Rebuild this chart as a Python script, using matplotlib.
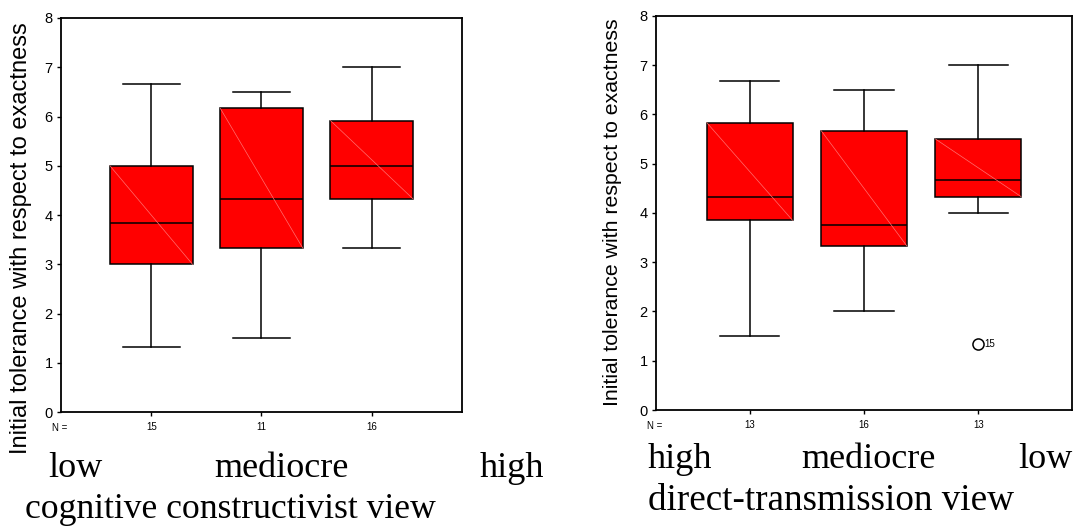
import matplotlib
matplotlib.use("Agg")
import matplotlib.pyplot as plt

plt.rcParams['font.family'] = ['Liberation Sans', 'DejaVu Sans']

# left panel: cognitive constructivist view
left_n = [15, 11, 16]
left_low = [1.33, 1.5, 3.33]
left_q1 = [3.0, 3.33, 4.33]
left_med = [3.85, 4.33, 5.0]
left_q3 = [5.0, 6.17, 5.92]
left_high = [6.67, 6.5, 7.0]
left_fliers = [[], [], []]
left_cats = ['low', 'mediocre', 'high']

# right panel: direct-transmission view
right_n = [13, 16, 13]
right_low = [1.5, 2.0, 4.0]
right_q1 = [3.85, 3.33, 4.33]
right_med = [4.33, 3.75, 4.67]
right_q3 = [5.83, 5.67, 5.5]
right_high = [6.67, 6.5, 7.0]
right_fliers = [[], [], [1.33]]
right_flier_ids = ['', '', '15']
right_cats = ['high', 'mediocre', 'low']

ylab = 'Initial tolerance with respect to exactness'
box_w = 0.75
cap_w = 0.52


def draw_panel(ax, n, low, q1, med, q3, high, fliers, flier_ids=None):
    stats = []
    for i in range(len(n)):
        stats.append(dict(whislo=low[i], q1=q1[i], med=med[i], q3=q3[i],
                          whishi=high[i], fliers=fliers[i]))
    pos = [1, 2, 3]
    ax.bxp(stats, positions=pos, widths=box_w, capwidths=cap_w,
           patch_artist=True, showfliers=True,
           boxprops=dict(facecolor='#ff0000', edgecolor='black', linewidth=1.1),
           whiskerprops=dict(color='black', linewidth=1.1),
           capprops=dict(color='black', linewidth=1.1),
           medianprops=dict(color='black', linewidth=1.1),
           flierprops=dict(marker='o', markerfacecolor='white', markeredgecolor='black',
                           markersize=8, markeredgewidth=1.1))
    # faint diagonal inside each box
    for i, p in enumerate(pos):
        ax.plot([p - box_w / 2, p + box_w / 2], [q3[i], q1[i]], color='#ff7070',
                lw=0.5, zorder=3)
    if flier_ids:
        for i, p in enumerate(pos):
            for v in fliers[i]:
                ax.text(p + 0.05, v, flier_ids[i], fontsize=7, va='center', ha='left')
    ax.set_xlim(0.18, 3.82)
    ax.set_ylim(0, 8)
    ax.set_yticks(range(0, 9))
    ax.set_xticks(pos)
    ax.set_xticklabels([str(v) for v in n], fontsize=7)
    ax.tick_params(axis='y', labelsize=10.5, length=3, width=1, pad=3)
    ax.tick_params(axis='x', length=3, width=1, pad=4)
    for s in ax.spines.values():
        s.set_linewidth(1.3)
    ax.text(-0.022, -0.027, 'N =', transform=ax.transAxes,
            fontsize=7, ha='left', va='top')


fig = plt.figure(figsize=(10.81, 5.26), dpi=100)

ax1 = fig.add_axes([0.0564, 0.2162, 0.371, 0.7496])
draw_panel(ax1, left_n, left_low, left_q1, left_med, left_q3, left_high, left_fliers)

ax2 = fig.add_axes([0.6068, 0.2205, 0.3848, 0.7496])
draw_panel(ax2, right_n, right_low, right_q1, right_med, right_q3, right_high,
           right_fliers, right_flier_ids)

fig.text(0.0195, 0.5466, ylab, rotation=90, fontsize=17, ha='center', va='center')
fig.text(0.567, 0.596, ylab, rotation=90, fontsize=15.3, ha='center', va='center')

serif = 'Liberation Serif'
for x, c in zip([0.0694, 0.260, 0.4736], left_cats):
    fig.text(x, 0.0932, c, fontsize=26, family=serif, ha='center', va='baseline')
fig.text(0.0231, 0.0152, 'cognitive constructivist view', fontsize=25.7, family=serif,
         ha='left', va='baseline')

for x, c in zip([0.629, 0.803, 0.9667], right_cats):
    fig.text(x, 0.110, c, fontsize=26, family=serif, ha='center', va='baseline')
fig.text(0.5994, 0.0304, 'direct-transmission view', fontsize=26.7, family=serif,
         ha='left', va='baseline')

fig.savefig('out.png', dpi=100)
